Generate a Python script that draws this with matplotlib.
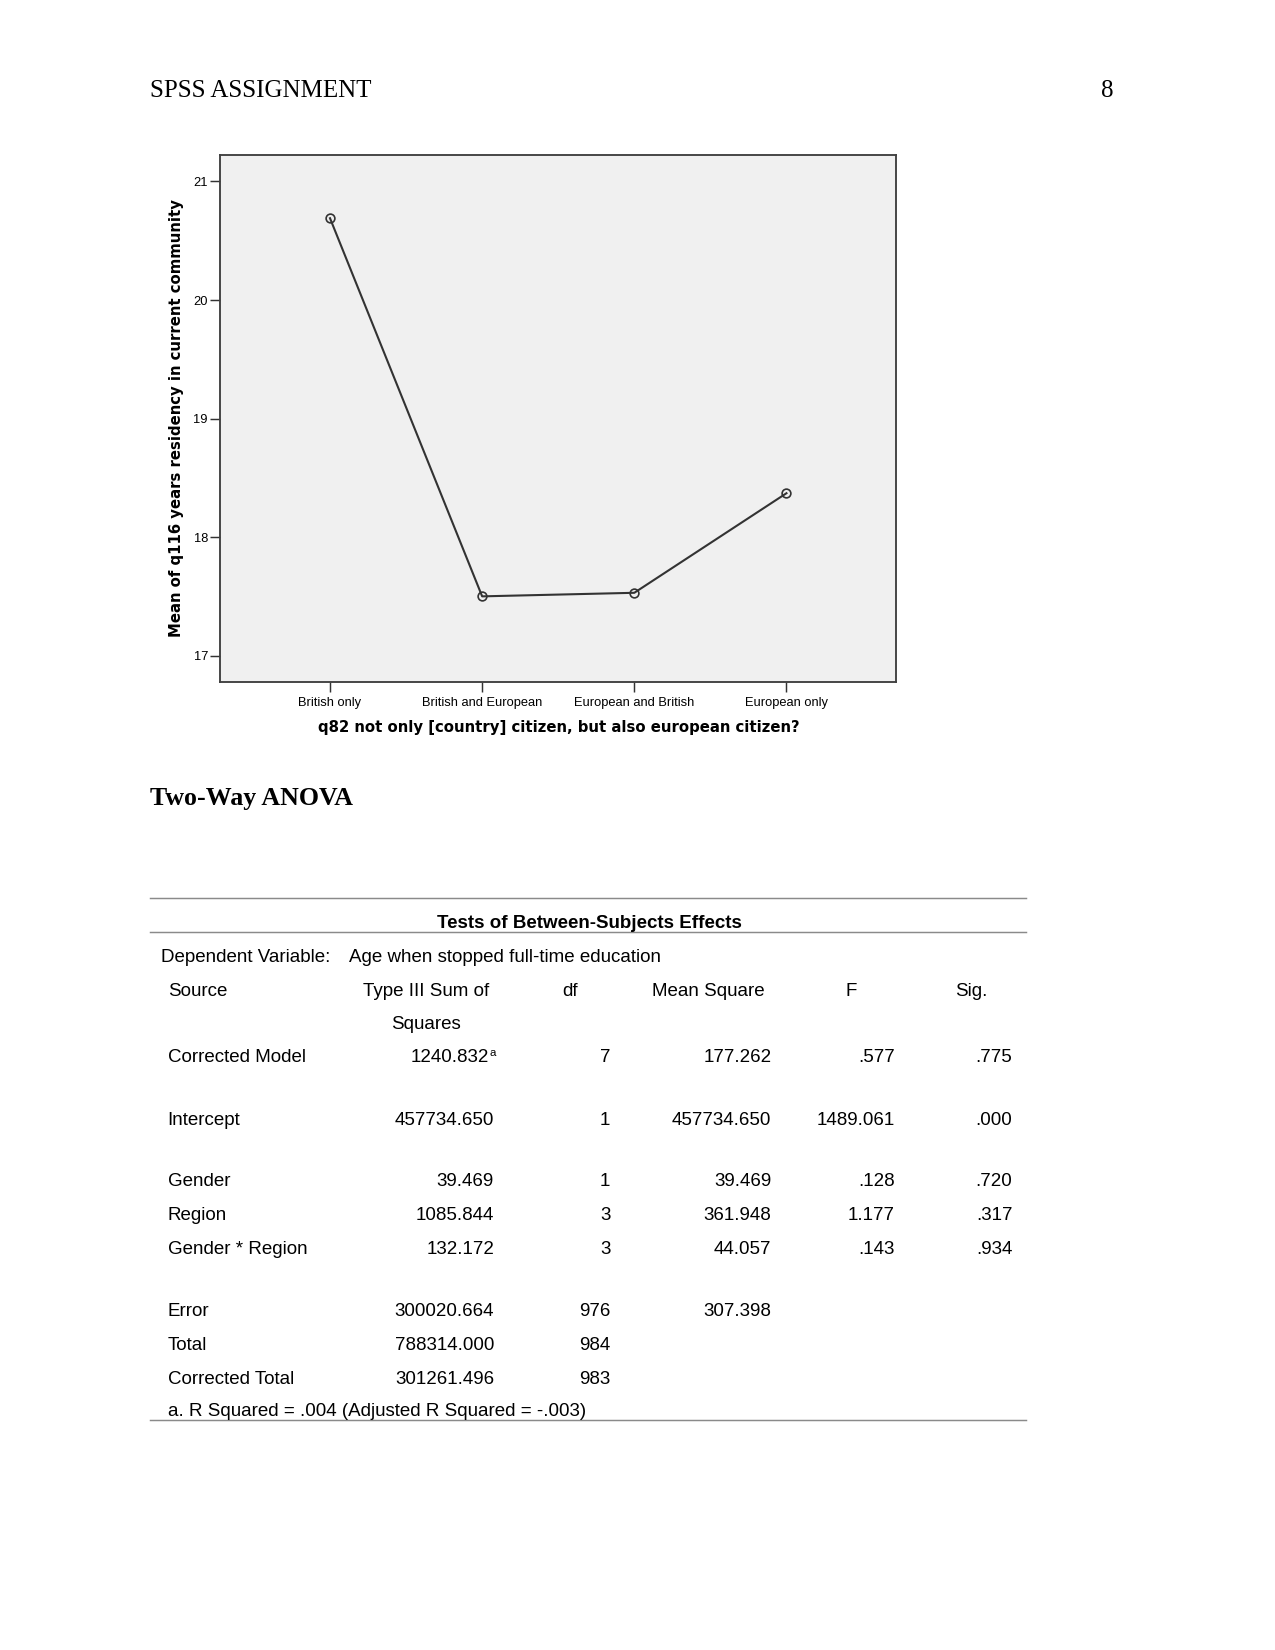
import matplotlib
matplotlib.use("Agg")
import matplotlib.pyplot as plt
from matplotlib.lines import Line2D

# chart data
categories = ['British only', 'British and European', 'European and British', 'European only']
means = [20.69, 17.50, 17.53, 18.37]
y_ticks = [17, 18, 19, 20, 21]

# table data
col_heads = ['Source', 'Type III Sum of', 'df', 'Mean Square', 'F', 'Sig.']
sources = ['Corrected Model', 'Intercept', 'Gender', 'Region', 'Gender * Region',
           'Error', 'Total', 'Corrected Total']
sum_sq = ['1240.832', '457734.650', '39.469', '1085.844', '132.172',
          '300020.664', '788314.000', '301261.496']
dfs = ['7', '1', '1', '3', '3', '976', '984', '983']
mean_sq = ['177.262', '457734.650', '39.469', '361.948', '44.057', '307.398', '', '']
f_vals = ['.577', '1489.061', '.128', '1.177', '.143', '', '', '']
sig = ['.775', '.000', '.720', '.317', '.934', '', '', '']

W, H = 1275, 1650
fig = plt.figure(figsize=(8.5, 11), dpi=150)


def fx(x):
    return x / W


def fy(y):
    return 1 - y / H


serif = 'Liberation Serif'
sans = 'Liberation Sans'

# page header
fig.text(fx(150), fy(91), 'SPSS ASSIGNMENT', family=serif, fontsize=12, va='center')
fig.text(fx(1114), fy(91), '8', family=serif, fontsize=12, va='center', ha='right')

# line chart
ax = fig.add_axes([fx(220), fy(681.7), (896 - 220) / W, (681.7 - 154.7) / H])
ax.set_facecolor('#f0f0f0')
x = range(len(categories))
ax.plot(x, means, color='#333333', lw=1.0, marker='o', ms=4.2,
        mfc='none', mec='#333333', mew=0.8)
ax.set_xlim(-0.723, 3.72)
ax.set_ylim(16.78, 21.226)
ax.set_xticks(list(x))
ax.set_xticklabels(categories, family=sans, fontsize=6.2)
ax.set_yticks(y_ticks)
ax.set_yticklabels([str(t) for t in y_ticks], family=sans, fontsize=6.2)
ax.tick_params(axis='x', length=4.8, width=0.7, color='#333333', pad=2.5)
ax.tick_params(axis='y', length=4.8, width=0.7, color='#333333', pad=1)
for s in ax.spines.values():
    s.set_color('#404040')
    s.set_linewidth(0.9)
fig.text(fx(177), fy(418), 'Mean of q116 years residency in current community',
         family='DejaVu Sans', fontweight='bold', fontsize=7.15, rotation=90,
         ha='center', va='center')
fig.text(fx(559), fy(727), 'q82 not only [country] citizen, but also european citizen?',
         family='DejaVu Sans', fontweight='bold', fontsize=7.15, ha='center', va='center')

# section heading
fig.text(fx(150), fy(799), 'Two-Way ANOVA', family=serif, fontsize=12.4,
         fontweight='bold', va='center')

# table
for ly in [898.3, 932.3, 1420]:
    fig.add_artist(Line2D([fx(150), fx(1026)], [fy(ly), fy(ly)], color='#8a8a8a', lw=0.7))

fs = 9
dy = 2
fig.text(fx(589), fy(921.7 + dy), 'Tests of Between-Subjects Effects', family=sans,
         fontsize=fs, fontweight='bold', ha='center', va='center')
fig.text(fx(161.3), fy(956 + dy), 'Dependent Variable:', family=sans, fontsize=fs, va='center')
fig.text(fx(349), fy(956 + dy), 'Age when stopped full-time education', family=sans,
         fontsize=fs, va='center')

head_x = [167.7, 426.2, 570, 708.7, 851, 971]
for i, h in enumerate(col_heads):
    fig.text(fx(head_x[i]), fy(989 + dy), h, family=sans, fontsize=fs, va='center',
             ha='left' if i == 0 else 'center')
fig.text(fx(426.2), fy(1022.5 + dy), 'Squares', family=sans, fontsize=fs, va='center', ha='center')

row_y = [1055.7, 1118.7, 1180, 1214, 1247, 1310, 1343, 1377]
right_x = [494, 610.3, 771.3, 894.8, 1012.5]
for r, yy in enumerate(row_y):
    yy = yy + dy
    fig.text(fx(167.7), fy(yy), sources[r], family=sans, fontsize=fs, va='center')
    cells = [sum_sq[r], dfs[r], mean_sq[r], f_vals[r], sig[r]]
    for c, val in enumerate(cells):
        xr = right_x[c]
        if r == 0 and c == 0:
            fig.text(fx(489), fy(yy - 5), 'a', family=sans, fontsize=5.5,
                     va='center', ha='left')
            xr = 488.5
        fig.text(fx(xr), fy(yy), val, family=sans, fontsize=fs, va='center', ha='right')

fig.text(fx(167.7), fy(1410 + dy), 'a. R Squared = .004 (Adjusted R Squared = -.003)',
         family=sans, fontsize=fs, va='center')

fig.savefig('out.png', dpi=150, facecolor='white')
